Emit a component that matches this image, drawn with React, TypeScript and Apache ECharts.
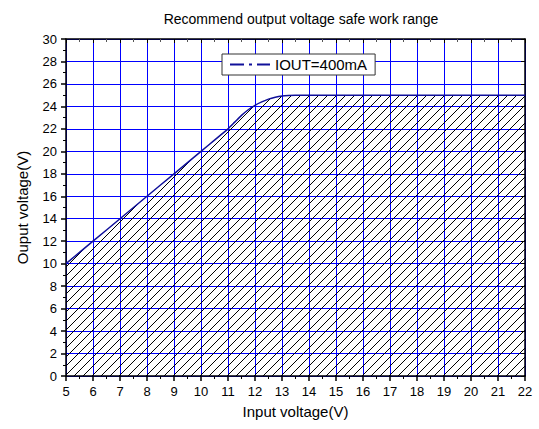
import React, { useEffect, useRef } from "react";
import * as echarts from "echarts";

const inputVoltage = [5, 6, 7, 8, 9, 10, 10.5, 11, 11.25, 11.5, 11.75, 12, 12.25, 12.5, 12.75, 13, 13.25, 13.5, 14, 15, 16, 17, 18, 19, 20, 21, 22];
const outputVoltage = [10, 12, 14, 16, 18, 20, 21, 22, 22.6, 23.2, 23.7, 24.1, 24.4, 24.65, 24.82, 24.93, 24.98, 25, 25, 25, 25, 25, 25, 25, 25, 25, 25];
const seriesName = "IOUT=400mA";
const titleText = "Recommend output voltage safe work range";
const xName = "Input voltage(V)";
const yName = "Ouput voltage(V)";

function makeHatch(): HTMLCanvasElement {
  const s = 9;
  const c = document.createElement("canvas");
  c.width = s;
  c.height = s;
  const ctx = c.getContext("2d")!;
  ctx.strokeStyle = "#000";
  ctx.lineWidth = 1;
  ctx.beginPath();
  ctx.moveTo(-1, s + 1);
  ctx.lineTo(s + 1, -1);
  ctx.moveTo(-1, 1);
  ctx.lineTo(1, -1);
  ctx.moveTo(s - 1, s + 1);
  ctx.lineTo(s + 1, s - 1);
  ctx.stroke();
  return c;
}

export default function App() {
  const ref = useRef<HTMLDivElement>(null);
  useEffect(() => {
    document.body.style.margin = "0";
    const chart = echarts.init(ref.current!, null, { renderer: "svg" });
    const font = "Liberation Sans, Arial, sans-serif";
    const data = inputVoltage.map((x, i) => [x, outputVoltage[i]]);
    chart.setOption({
      animation: false,
      backgroundColor: "#fff",
      textStyle: { fontFamily: font, color: "#000" },
      title: {
        text: titleText,
        left: 296,
        top: 7,
        textAlign: "center",
        textStyle: { fontSize: 14, fontWeight: "normal", color: "#000", fontFamily: font },
      },
      legend: {
        left: 222,
        top: 54,
        padding: [3, 8, 3, 8],
        borderColor: "#333",
        borderWidth: 1,
        backgroundColor: "#fff",
        itemWidth: 40,
        itemHeight: 3,
        icon: "path://M0,0h14v2h-14z M19,0h3v2h-3z M27,0h13v2h-13z",
        textStyle: { fontSize: 15, color: "#000", fontFamily: font, padding: [0, 0, 0, 0] },
        data: [{ name: seriesName, itemStyle: { color: "#10109a" } }],
      },
      grid: { left: 66, right: 14, top: 39, bottom: 53 },
      xAxis: [
        {
          type: "value",
          min: 5,
          max: 22,
          interval: 1,
          name: xName,
          nameLocation: "middle",
          nameGap: 28,
          nameTextStyle: { fontSize: 15, color: "#000", fontFamily: font },
          axisLine: { show: true, onZero: false, lineStyle: { color: "#000", width: 1.5 } },
          axisTick: { show: true, length: 5, lineStyle: { color: "#000", width: 1.5 } },
          minorTick: { show: true, splitNumber: 2, length: 3, lineStyle: { color: "#000", width: 1 } },
          axisLabel: { fontSize: 13, color: "#000", margin: 9, fontFamily: font },
          splitLine: { show: true, lineStyle: { color: "#0000ff", width: 1 } },
        },
        {
          type: "value",
          position: "top",
          min: 5,
          max: 22,
          interval: 1,
          axisLine: { show: true, onZero: false, lineStyle: { color: "#000", width: 1.5 } },
          axisTick: { show: true, inside: true, length: 4, lineStyle: { color: "#000" } },
          minorTick: { show: true, splitNumber: 2, length: 3, lineStyle: { color: "#555" } },
          axisLabel: { show: false },
          splitLine: { show: false },
        },
      ],
      yAxis: [
        {
          type: "value",
          min: 0,
          max: 30,
          interval: 2,
          name: yName,
          nameLocation: "middle",
          nameGap: 36,
          nameTextStyle: { fontSize: 15, color: "#000", fontFamily: font },
          axisLine: { show: true, onZero: false, lineStyle: { color: "#000", width: 1.5 } },
          axisTick: { show: true, length: 5, lineStyle: { color: "#000", width: 1.5 } },
          minorTick: { show: true, splitNumber: 2, length: 3, lineStyle: { color: "#000", width: 1 } },
          axisLabel: { fontSize: 13, color: "#000", margin: 9, fontFamily: font },
          splitLine: { show: true, lineStyle: { color: "#0000ff", width: 1 } },
        },
        {
          type: "value",
          position: "right",
          min: 0,
          max: 30,
          interval: 2,
          axisLine: { show: true, onZero: false, lineStyle: { color: "#000", width: 1.5 } },
          axisTick: { show: true, inside: true, length: 4, lineStyle: { color: "#000" } },
          minorTick: { show: false },
          axisLabel: { show: false },
          splitLine: { show: false },
        },
      ],
      series: [
        {
          name: seriesName,
          type: "line",
          data,
          showSymbol: false,
          symbol: "none",
          smooth: 0.2,
          lineStyle: { color: "#10109a", width: 1.5 },
          itemStyle: { color: "#10109a" },
          areaStyle: { color: { image: makeHatch(), repeat: "repeat" }, opacity: 1 },
          z: 3,
        },
      ],
    });
    return () => chart.dispose();
  }, []);
  return <div ref={ref} style={{ width: 539, height: 429 }} />;
}
